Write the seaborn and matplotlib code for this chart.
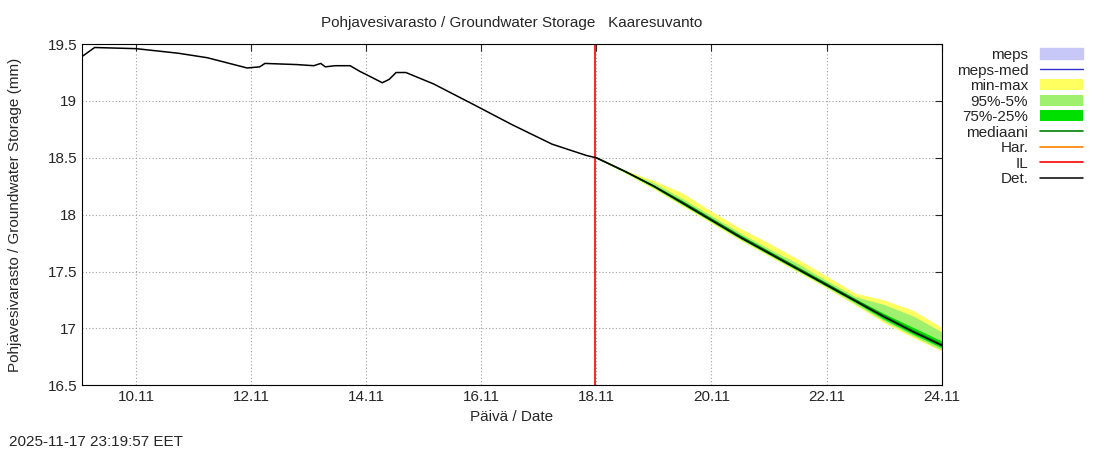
import numpy as np
import matplotlib
matplotlib.use("Agg")
import matplotlib.pyplot as plt
import seaborn as sns

# observed / deterministic series (day of November, value mm)
det_days = [9.06, 9.28, 10.0, 10.73, 11.24, 11.93, 12.15, 12.24, 12.79, 13.09, 13.21, 13.29, 13.46,
            13.72, 13.89, 14.01, 14.28, 14.40, 14.52, 14.69, 15.17, 15.86, 16.54, 17.23, 17.83]
det_vals = [19.39, 19.47, 19.46, 19.42, 19.38, 19.29, 19.30, 19.33, 19.32, 19.31, 19.33, 19.30,
            19.31, 19.31, 19.26, 19.23, 19.16, 19.19, 19.25, 19.25, 19.15, 18.97, 18.79, 18.62, 18.52]

# forecast
fc_days = [18, 18.5, 19, 19.5, 20, 20.5, 21, 21.5, 22, 22.5, 23, 23.5, 24]
fc_det = [18.50, 18.38, 18.25, 18.10, 17.95, 17.80, 17.66, 17.52, 17.38, 17.24, 17.10, 16.97, 16.85]
fc_max = [18.50, 18.39, 18.30, 18.19, 18.03, 17.88, 17.75, 17.61, 17.46, 17.31, 17.25, 17.16, 17.01]
fc_min = [18.50, 18.365, 18.225, 18.075, 17.925, 17.775, 17.635, 17.495, 17.355, 17.205, 17.05, 16.92, 16.80]
fc_p95 = [18.50, 18.385, 18.28, 18.14, 17.99, 17.84, 17.70, 17.57, 17.42, 17.28, 17.21, 17.11, 16.97]
fc_p5 = [18.50, 18.37, 18.235, 18.085, 17.935, 17.785, 17.645, 17.505, 17.365, 17.215, 17.065, 16.935, 16.81]
fc_p75 = [18.50, 18.38, 18.26, 18.12, 17.97, 17.82, 17.68, 17.54, 17.40, 17.26, 17.13, 17.01, 16.89]
fc_p25 = [18.50, 18.375, 18.24, 18.09, 17.94, 17.79, 17.65, 17.51, 17.37, 17.23, 17.08, 16.95, 16.83]
fc_med = [18.50, 18.38, 18.25, 18.11, 17.96, 17.81, 17.67, 17.53, 17.39, 17.25, 17.11, 16.98, 16.86]

tick_days = [10, 12, 14, 16, 18, 20, 22, 24]
tick_labels = ["10.11", "12.11", "14.11", "16.11", "18.11", "20.11", "22.11", "24.11"]
il_day = 17.98

sns.set_style("white")
plt.rcParams["font.family"] = ["Liberation Sans", "DejaVu Sans"]
plt.rcParams["font.size"] = 11

fig = plt.figure(figsize=(11, 4.5), dpi=100)
ax = fig.add_axes([0.0745, 0.144, 0.7815, 0.758])

ax.fill_between([], [], color="#c8c8f8", label="meps")
ax.plot([], [], color="#3030d0", lw=1, label="meps-med")
ax.fill_between(fc_days, fc_min, fc_max, color="#ffff60", lw=0, label="min-max")
ax.fill_between(fc_days, fc_p5, fc_p95, color="#a0f070", lw=0, label="95%-5%")
ax.fill_between(fc_days, fc_p25, fc_p75, color="#00e000", lw=0, label="75%-25%")
sns.lineplot(x=fc_days, y=fc_med, color="#008000", lw=1.2, ax=ax, label="mediaani")
ax.plot([], [], color="#ff8000", lw=1.2, label="Har.")
ax.axvline(il_day, color="#ff0000", lw=1.2, zorder=1, label="IL")
sns.lineplot(x=det_days + fc_days, y=det_vals + fc_det, color="black", lw=1.1, ax=ax,
             label="Det.", sort=False)

ax.set_xlim(9.06, 24)
ax.set_ylim(16.5, 19.5)
ax.set_xticks(tick_days)
ax.set_xticklabels(tick_labels)
ax.set_yticks([16.5, 17, 17.5, 18, 18.5, 19, 19.5])
ax.set_yticklabels(["16.5", "17", "17.5", "18", "18.5", "19", "19.5"])
ax.grid(True, color="#a0a0a0", ls=(0, (1, 2)), lw=0.8)
for s in ax.spines.values():
    s.set_color("black")
ax.tick_params(direction="in", length=5, top=True, right=True, labelsize=11)
ax.set_xlabel("Päivä / Date")
ax.set_ylabel("Pohjavesivarasto / Groundwater Storage (mm)", labelpad=18)
ax.set_title("Pohjavesivarasto / Groundwater Storage   Kaaresuvanto", fontsize=11, pad=12)

leg = ax.legend(loc="upper left", bbox_to_anchor=(1.005, 1.02), frameon=False, markerfirst=False,
                handlelength=2.8, labelspacing=0.1, fontsize=11, borderaxespad=0.3)
for t in leg.get_texts():
    t.set_ha("right")
leg._legend_box.align = "right"

fig.text(0.008, 0.01, "2025-11-17 23:19:57 EET", fontsize=11)
fig.savefig("out.png", dpi=100)
